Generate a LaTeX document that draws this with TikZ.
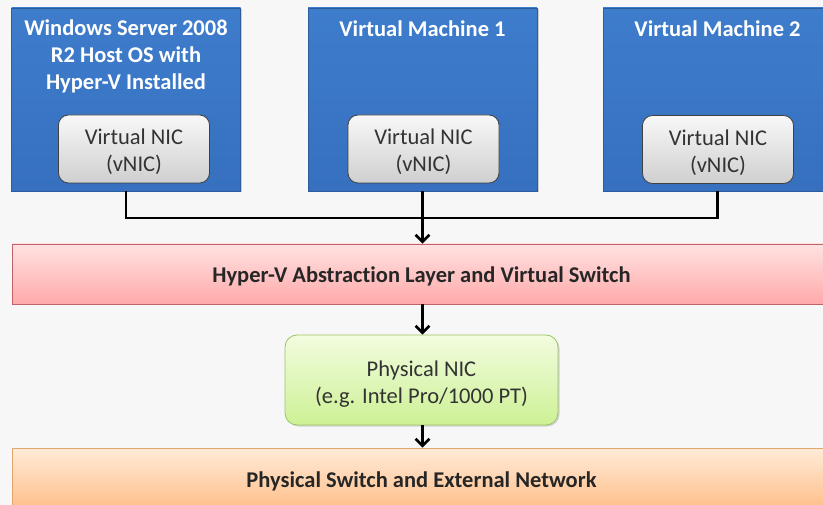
\documentclass[tikz,border=0pt]{standalone}
\usepackage{fontspec}
\setmainfont[Ligatures=NoCommon]{Carlito}
\usetikzlibrary{arrows.meta,shadows}
\definecolor{bg}{HTML}{F7F7F7}
\definecolor{bluetop}{HTML}{3E7DCC}
\definecolor{bluebot}{HTML}{3670BE}
\definecolor{blueborder}{HTML}{2C5C9C}
\definecolor{pinktop}{HTML}{FFE2E2}
\definecolor{pinkbot}{HTML}{FFA9A9}
\definecolor{pinkborder}{HTML}{C0626A}
\definecolor{greentop}{HTML}{F2FCDF}
\definecolor{greenbot}{HTML}{CDF195}
\definecolor{greenborder}{HTML}{9CC463}
\definecolor{orangetop}{HTML}{FFEBD8}
\definecolor{orangebot}{HTML}{FFBF8A}
\definecolor{orangeborder}{HTML}{E4A56A}
\definecolor{graytop}{HTML}{F8F8F8}
\definecolor{graybot}{HTML}{CFCFCF}
\tikzset{
  hostbox/.style={draw=blueborder, line width=0.8pt, top color=bluetop, bottom color=bluebot,
    minimum width=229pt, minimum height=183pt, inner sep=0pt,
    drop shadow={opacity=0.35, shadow xshift=1.5pt, shadow yshift=-1.5pt}},
  nicbox/.style={draw=black!75, line width=0.8pt, rounded corners=10pt, top color=graytop, bottom color=graybot,
    minimum width=151pt, minimum height=68pt, inner sep=0pt},
  plaintext/.style={align=center, inner sep=0pt, font=\fontsize{22.5}{27}\selectfont, text=black!80},
  boldtext/.style={align=center, inner sep=0pt, font=\bfseries\fontsize{22.5}{27}\selectfont, text=black!85},
  titletext/.style={text=white, font=\bfseries\fontsize{22.5}{27}\selectfont, align=center, inner sep=0pt},
  layerbar/.style={line width=0.8pt, minimum width=819pt, minimum height=60pt, inner sep=0pt,
    drop shadow={opacity=0.3, shadow xshift=1.5pt, shadow yshift=-1.5pt}},
  pinkbar/.style={layerbar, draw=pinkborder, top color=pinktop, bottom color=pinkbot},
  orangebar/.style={layerbar, draw=orangeborder, top color=orangetop, bottom color=orangebot},
  greenbox/.style={draw=greenborder, line width=0.8pt, rounded corners=12pt, top color=greentop, bottom color=greenbot,
    minimum width=273pt, minimum height=90pt, inner sep=0pt,
    drop shadow={opacity=0.3, shadow xshift=1.5pt, shadow yshift=-1.5pt}},
  conn/.style={line width=2.6pt, black},
  arr/.style={conn, -{Straight Barb[length=7pt, width=14pt, line width=2.6pt]}}
}
\begin{document}
\begin{tikzpicture}[x=1pt,y=-1pt]
\useasboundingbox (0,0) rectangle (823,505);
\clip (0,0) rectangle (823,505);
\fill[bg] (0,0) rectangle (823,505);
% host boxes
\node[hostbox] (host) at (126,99.5) {};
\node[hostbox] (vm1) at (422.5,99.5) {};
\node[hostbox] (vm2) at (717.5,99.5) {};
\node[titletext] (hosttitle) at (126,56) {Windows Server 2008\\R2 Host OS with\\Hyper-V Installed};
\node[titletext] (vm1title) at (422.5,28.5) {Virtual Machine 1};
\node[titletext] (vm2title) at (717.5,28.5) {Virtual Machine 2};
\node[nicbox] (nic0) at (134,149) {};
\node[nicbox] (nic1) at (423.5,149) {};
\node[nicbox] (nic2) at (718,149.5) {};
\node[plaintext] (nic0t) at (134,152) {Virtual NIC\\(vNIC)};
\node[plaintext] (nic1t) at (423.5,152) {Virtual NIC\\(vNIC)};
\node[plaintext] (nic2t) at (718,152.5) {Virtual NIC\\(vNIC)};
% layers
\node[pinkbar] (hyper) at (421.5,274) {};
\node[boldtext] (hypert) at (421.5,276) {Hyper-V Abstraction Layer and Virtual Switch};
\node[greenbox] (pnic) at (421.5,380) {};
\node[plaintext] (pnict) at (421.5,384) {Physical NIC\\(e.g. Intel Pro/1000 PT)};
\node[orangebar] (ext) at (421.5,478) {};
\node[boldtext] (extt) at (421.5,481.5) {Physical Switch and External Network};
% connectors
\coordinate (bus) at (0,218);
\draw[conn] (host.south) -- (host.south |- bus) -- (vm2.south |- bus) -- (vm2.south);
\draw[arr] (vm1.south) -- (hyper.north -| vm1.south);
\draw[arr] (hyper.south -| vm1.south) -- (pnic.north -| vm1.south);
\draw[arr] (pnic.south -| vm1.south) -- (ext.north -| vm1.south);
\end{tikzpicture}
\end{document}
